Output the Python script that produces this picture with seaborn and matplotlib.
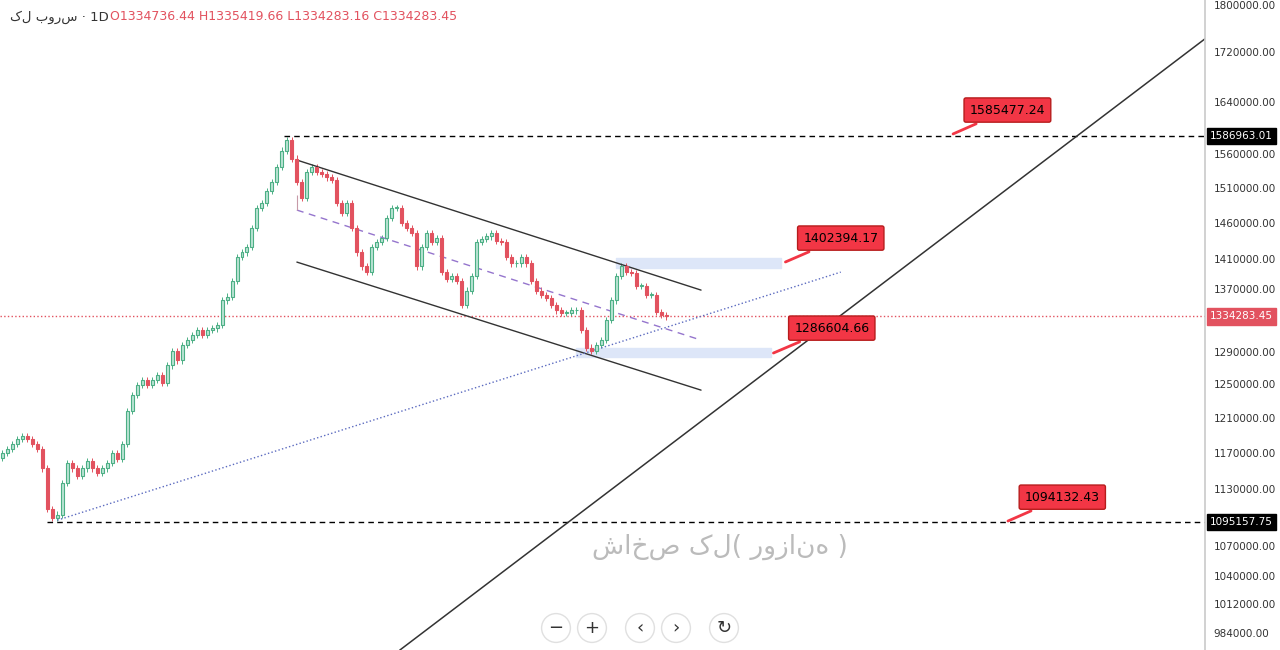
import numpy as np
import pandas as pd
import matplotlib
matplotlib.use("Agg")
import matplotlib.pyplot as plt
import seaborn as sns

# closes (thousands), one per daily candle
closes = [1170,1175,1180,1186,1189,1186,1180,1175,1153,1109,1099,1103,1137,1159,1153,1145,1153,1161,1153,1148,
          1153,1159,1170,1164,1180,1218,1237,1249,1255,1249,1255,1261,1252,1273,1291,1279,1298,1304,1311,1317,
          1311,1317,1319,1323,1355,1360,1381,1413,1419,1426,1453,1481,1488,1505,1518,1541,1565,1581,1553,1518,
          1495,1533,1541,1533,1530,1525,1521,1488,1474,1488,1453,1419,1400,1393,1426,1433,1439,1467,1481,1481,
          1460,1453,1446,1400,1426,1446,1433,1439,1393,1383,1387,1381,1349,1368,1387,1433,1437,1441,1446,1435,
          1433,1413,1404,1404,1413,1404,1381,1368,1362,1358,1349,1342,1339,1339,1342,1342,1317,1295,1291,1298,
          1304,1330,1355,1387,1400,1393,1391,1374,1374,1362,1362,1340,1336,1334.283]
opens = [1165] + closes[:-1]
levels = [1586963.01, 1095157.75, 1334283.45]
callouts = [1585477.24, 1402394.17, 1286604.66, 1094132.43]
yticks = [984000,1012000,1040000,1070000,1130000,1170000,1210000,1250000,1290000,1370000,
          1410000,1460000,1510000,1560000,1640000,1720000,1800000]

sns.set_theme(style="white")
plt.rcParams['font.family'] = ['DejaVu Sans']
fig = plt.figure(figsize=(12.8, 6.5), dpi=100)
ax = fig.add_axes([0, 0, 1205/1280, 1])
ax.set_yscale('log')
ax.set_xlim(-0.5, 241)
ax.set_ylim(968300, 1808700)

df = pd.DataFrame({"i": np.arange(len(closes)), "o": np.array(opens)*1000, "c": np.array(closes)*1000})
for _, r in df.iterrows():
    up = r.c >= r.o
    lo, hi = min(r.o, r.c), max(r.o, r.c)
    h = max(hi - lo, 800)
    ax.bar(r.i, h, bottom=lo, width=0.6, color='#b9e3d4' if up else '#e2525f',
           edgecolor='#4caf85' if up else '#e2525f', linewidth=0.8, zorder=3)
    ax.vlines(r.i, lo*0.997, hi*1.003, color='#4caf85' if up else '#e2525f', lw=0.7, zorder=2)

X = lambda px: px/5
ax.hlines(levels[0], X(282), 241, colors='black', linestyles=(0,(4,3)), lw=1)
ax.hlines(levels[1], X(45), 241, colors='black', linestyles=(0,(4,3)), lw=1)
ax.axhline(levels[2], color='#e2525f', ls=':', lw=1)
P = lambda y: 1800000*np.exp(-(y-5)/1040)
ax.plot([X(295), X(700)], [P(160), P(290)], color='#333', lw=1)
ax.plot([X(295), X(700)], [P(262), P(390)], color='#333', lw=1)
ax.plot([X(295), X(700)], [P(210), P(340)], color='#9575cd', lw=1, ls=(0,(5,4)))
ax.vlines(X(295), P(210), P(195), color='#c79aa8', lw=0.8)
sns.lineplot(x=[X(55), X(840)], y=[P(520), P(272)], color='#5c6bc0', lw=1, ls=':', ax=ax)
ax.plot([X(398), X(1210)], [P(650), P(35)], color='#333', lw=1.1)
ax.fill_between([X(615), X(780)], P(268), P(258), color='#dde6f8', zorder=1)
ax.fill_between([X(575), X(770)], P(357), P(348), color='#dde6f8', zorder=1)
for val, (bx, by, px, py) in zip(callouts, [(1007,110,950,135),(840,238,782,263),(831,328,770,354),(1062,497,1005,522)]):
    ax.annotate(f"{val:.2f}", xy=(X(px), P(py)), xytext=(X(bx), P(by)), ha='center', va='center',
                fontsize=9, color='black',
                bbox=dict(boxstyle='round,pad=0.45,rounding_size=0.15', fc='#f23645', ec='#b71c1c'),
                arrowprops=dict(arrowstyle='-', color='#f23645', lw=2))

ax.yaxis.tick_right()
ax.set_yticks(yticks)
ax.yaxis.set_minor_locator(matplotlib.ticker.NullLocator())
ax.set_yticklabels([f"{v:.2f}" for v in yticks], fontsize=7.5, color='#333')
ax.tick_params(axis='y', pad=6, length=0)
ax.set_xticks([])
for s in ['top', 'left', 'bottom']:
    ax.spines[s].set_visible(False)
ax.spines['right'].set_color('#ccc')
for v, bg in [(levels[0], 'black'), (levels[1], 'black'), (levels[2], '#e2525f')]:
    ax.text(1.004, v, f"{v:.2f}", transform=ax.get_yaxis_transform(), fontsize=7.5, color='white',
            va='center', bbox=dict(boxstyle='square,pad=0.3', fc=bg, ec=bg), clip_on=False)

fig.text(10/1280, 1-17/650, "کل بورس · 1D", fontsize=9.5, color='#333', va='center')
fig.text(110/1280, 1-17/650, "O1334736.44 H1335419.66 L1334283.16 C1334283.45", fontsize=9,
         color='#e2525f', va='center')
fig.text(720/1280, 1-547/650, "شاخص کل( روزانه )", fontsize=19, color='#bbbbbb', ha='center',
         va='center')
for bx, t in [(556,'−'),(592,'+'),(640,'‹'),(676,'›'),(724,'↻')]:
    fig.text(bx/1280, 1-628/650, t, fontsize=13, ha='center', va='center', color='#333',
             bbox=dict(boxstyle='circle,pad=0.3', fc='white', ec='#e0e0e0'))
fig.savefig("out.png", dpi=100)
